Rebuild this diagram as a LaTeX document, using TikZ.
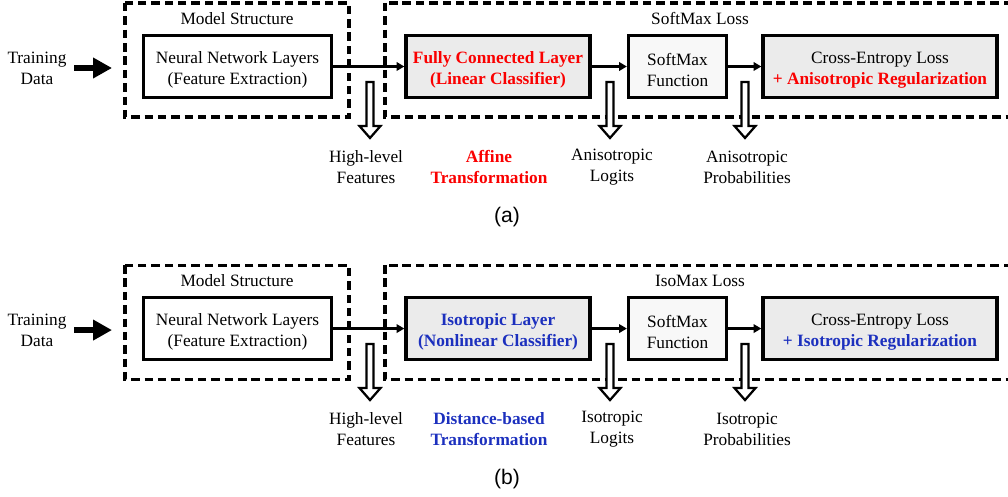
\documentclass[tikz,border=0pt]{standalone}
\usepackage{fontspec}
\setmainfont{Liberation Serif}
\newfontfamily\capfont{Liberation Sans}
\usetikzlibrary{arrows.meta}
\definecolor{redtxt}{RGB}{250,0,0}
\definecolor{bluetxt}{RGB}{28,48,190}
\definecolor{boxgray}{RGB}{235,235,235}
\definecolor{boxlight}{RGB}{248,248,248}
\newcommand\lift{\rule{0pt}{13pt}}

\tikzset{
  layer/.style={draw, line width=2.3pt, minimum height=1.55cm, inner sep=0pt, align=center,
    font=\fontsize{12.3}{15}\selectfont},
  dashbox/.style={draw, line width=2.2pt, dash pattern=on 6pt off 3.5pt},
  flow/.style={line width=1.6pt, -{Triangle[length=5.5pt,width=6pt]}},
  feed/.style={line width=4.3pt, -{Triangle[length=13.5pt,width=14pt]}},
  note/.style={align=center, font=\fontsize{12.3}{15}\selectfont},
  hot/.style={align=center, font=\fontsize{12.3}{15}\selectfont\bfseries},
  panel/.style={font=\capfont\fontsize{15}{18}\selectfont},
  hollow/.pic={\draw[line width=1.6pt, fill=white] (-3.5,0) -- (3.5,0) -- (3.5,44) -- (10.5,44)
    -- (0,56) -- (-10.5,44) -- (-3.5,44) -- cycle;}
}

\begin{document}
\begin{tikzpicture}[x=0.025cm, y=-0.025cm]
  \useasboundingbox (0,0) rectangle (1008,497);

  % (a) softmax loss
  \draw[dashbox] (125,3) rectangle (349,117);
  \draw[dashbox] (385,3) rectangle (1012,117);
  \node [note] (msA) at (237,19) {Model Structure};
  \node [note] (lossA) at (700,19) {SoftMax Loss};
  \node [note] (tdA) at (37,68) {Training\\Data};
  \coordinate (inA) at (112,68);
  \node [layer, minimum width=4.7cm] (nnA) at (237.5,66.5) {\lift Neural Network Layers\\(Feature Extraction)};
  \node [layer, fill=boxgray, minimum width=4.6cm, text=redtxt, font=\fontsize{12.3}{15}\selectfont\bfseries]
    (fcA) at (498,66.5) {\lift Fully Connected Layer\\(Linear Classifier)};
  \node [layer, fill=boxlight, minimum width=2.45cm] (smA) at (677.5,66.5) {\lift SoftMax\\Function};
  \node [layer, fill=boxgray, minimum width=5.85cm] (ceA) at (880,66.5)
    {\lift Cross-Entropy Loss\\{\bfseries\color{redtxt}+ Anisotropic Regularization}};
  \draw[feed] (tdA.east) ++(3,0) -- (inA);
  \draw[flow] (nnA.east) -- (fcA.west);
  \draw[flow] (fcA.east) -- (smA.west);
  \draw[flow] (smA.east) -- (ceA.west);
  \pic at (370,82) {hollow};
  \pic at (610,82) {hollow};
  \pic at (745,82) {hollow};
  \node [note] (featA) at (366,167) {High-level\\Features};
  \node [hot, text=redtxt] (trA) at (489,167) {Affine\\Transformation};
  \node [note] (logA) at (612,167) {Anisotropic\\Logits};
  \node [note] (probA) at (747,167) {Anisotropic\\Probabilities};
  \node [panel] (capA) at (507,217) {(a)};

  % (b) isomax loss
  \begin{scope}[yshift=-6.55cm]
  \draw[dashbox] (125,3) rectangle (349,117);
  \draw[dashbox] (385,3) rectangle (1012,117);
  \node [note] (msB) at (237,19) {Model Structure};
  \node [note] (lossB) at (700,19) {IsoMax Loss};
  \node [note] (tdB) at (37,68) {Training\\Data};
  \coordinate (inB) at (112,68);
  \node [layer, minimum width=4.7cm] (nnB) at (237.5,66.5) {\lift Neural Network Layers\\(Feature Extraction)};
  \node [layer, fill=boxgray, minimum width=4.6cm, text=bluetxt, font=\fontsize{12.3}{15}\selectfont\bfseries]
    (fcB) at (498,66.5) {\lift Isotropic Layer\\(Nonlinear Classifier)};
  \node [layer, fill=boxlight, minimum width=2.45cm] (smB) at (677.5,66.5) {\lift SoftMax\\Function};
  \node [layer, fill=boxgray, minimum width=5.85cm] (ceB) at (880,66.5)
    {\lift Cross-Entropy Loss\\{\bfseries\color{bluetxt}+ Isotropic Regularization}};
  \draw[feed] (tdB.east) ++(3,0) -- (inB);
  \draw[flow] (nnB.east) -- (fcB.west);
  \draw[flow] (fcB.east) -- (smB.west);
  \draw[flow] (smB.east) -- (ceB.west);
  \pic at (370,82) {hollow};
  \pic at (610,82) {hollow};
  \pic at (745,82) {hollow};
  \node [note] (featB) at (366,167) {High-level\\Features};
  \node [hot, text=bluetxt] (trB) at (489,167) {Distance-based\\Transformation};
  \node [note] (logB) at (612,167) {Isotropic\\Logits};
  \node [note] (probB) at (747,167) {Isotropic\\Probabilities};
  \node [panel] (capB) at (507,217) {(b)};
  \end{scope}
\end{tikzpicture}
\end{document}
